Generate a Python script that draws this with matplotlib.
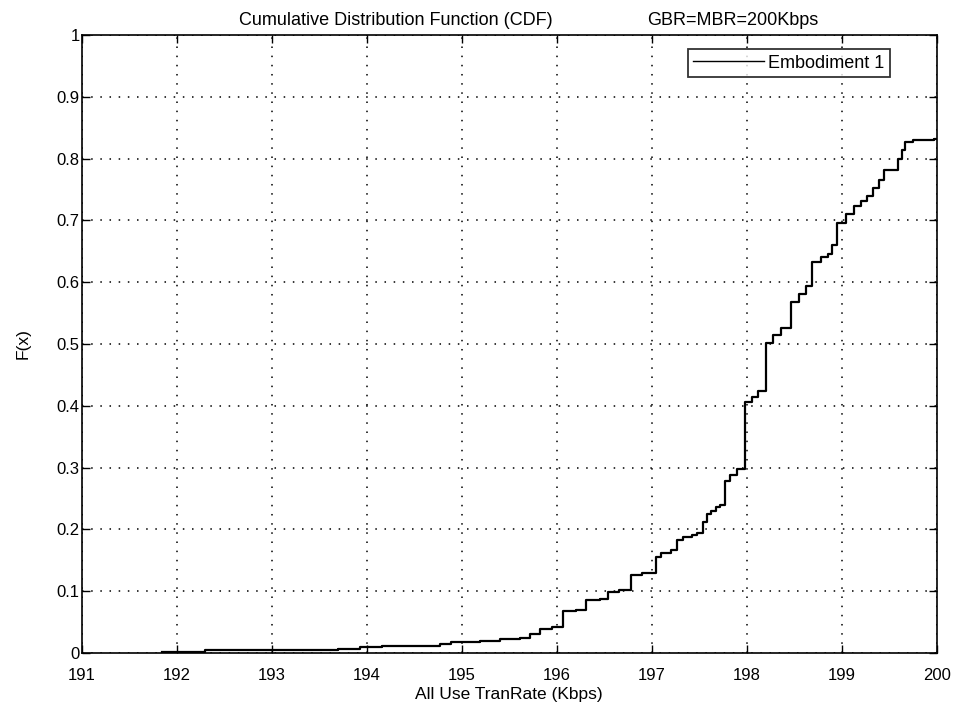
import matplotlib
matplotlib.use("Agg")
import matplotlib.pyplot as plt
import numpy as np

plt.rcParams['font.family'] = ['Liberation Sans', 'DejaVu Sans']

# CDF step data (x value where step occurs, F(x) after step)
rate_x = [191.84, 192.30, 193.70, 193.93, 194.16, 194.77, 194.89, 195.19, 195.40,
          195.61, 195.72, 195.82, 195.95, 196.07, 196.20, 196.31, 196.45, 196.54,
          196.66, 196.78, 196.90, 197.04, 197.10, 197.20, 197.27, 197.33, 197.42,
          197.48, 197.54, 197.58, 197.62, 197.68, 197.72, 197.77, 197.82, 197.90,
          197.98, 198.05, 198.12, 198.20, 198.28, 198.36, 198.46, 198.55, 198.62,
          198.69, 198.78, 198.85, 198.90, 198.95, 199.04, 199.13, 199.20, 199.27,
          199.33, 199.39, 199.44, 199.59, 199.63, 199.67, 199.75, 199.97, 200.0]
cdf_y = [0.002, 0.004, 0.006, 0.009, 0.012, 0.015, 0.017, 0.020, 0.022,
         0.025, 0.030, 0.038, 0.042, 0.068, 0.070, 0.086, 0.088, 0.099,
         0.102, 0.126, 0.130, 0.156, 0.162, 0.166, 0.183, 0.187, 0.191,
         0.194, 0.212, 0.225, 0.229, 0.236, 0.239, 0.279, 0.288, 0.298,
         0.406, 0.414, 0.424, 0.501, 0.515, 0.525, 0.568, 0.581, 0.593,
         0.633, 0.640, 0.646, 0.660, 0.695, 0.710, 0.724, 0.732, 0.740,
         0.752, 0.765, 0.782, 0.800, 0.813, 0.827, 0.830, 0.832, 0.832]

x_ticks = [191, 192, 193, 194, 195, 196, 197, 198, 199, 200]
y_ticks = [0, 0.1, 0.2, 0.3, 0.4, 0.5, 0.6, 0.7, 0.8, 0.9, 1]
y_tick_labels = ['0', '0.1', '0.2', '0.3', '0.4', '0.5', '0.6', '0.7', '0.8', '0.9', '1']

fig = plt.figure(figsize=(9.64, 7.17), dpi=100)
ax = fig.add_axes([0.0848, 0.0893, 0.887, 0.862])

ax.plot(rate_x, cdf_y, color='black', lw=1.6, drawstyle='steps-post', label='Embodiment 1')

ax.set_xlim(191, 200)
ax.set_ylim(0, 1)
ax.set_xticks(x_ticks)
ax.set_xticklabels([str(t) for t in x_ticks])
ax.set_yticks(y_ticks)
ax.set_yticklabels(y_tick_labels)
ax.tick_params(direction='in', length=6, width=1, top=True, right=True,
               labelsize=12, colors='black')
ax.tick_params(axis='x', pad=11)
ax.tick_params(axis='y', pad=1.5)
for s in ax.spines.values():
    s.set_linewidth(1.2)
    s.set_color('black')

ax.grid(True, color='black', linestyle=(0, (1, 5)), linewidth=1.1)

ax.set_xlabel('All Use TranRate (Kbps)', fontsize=12.5, labelpad=3)
ax.set_ylabel('F(x)', fontsize=12.5, labelpad=19)

fig.text(0.411, 0.972, 'Cumulative Distribution Function (CDF)', ha='center', va='center', fontsize=13)
fig.text(0.760, 0.972, 'GBR=MBR=200Kbps', ha='center', va='center', fontsize=13)

leg = ax.legend(loc='upper right', bbox_to_anchor=(0.945, 0.977), fontsize=13,
                frameon=True, fancybox=False, edgecolor='black', handlelength=3.9,
                borderpad=0.3, handletextpad=0.25, borderaxespad=0.0)
leg.get_frame().set_linewidth(1.3)
for l in leg.get_lines():
    l.set_linewidth(1.0)

fig.savefig('out.png', dpi=100, facecolor='white')
